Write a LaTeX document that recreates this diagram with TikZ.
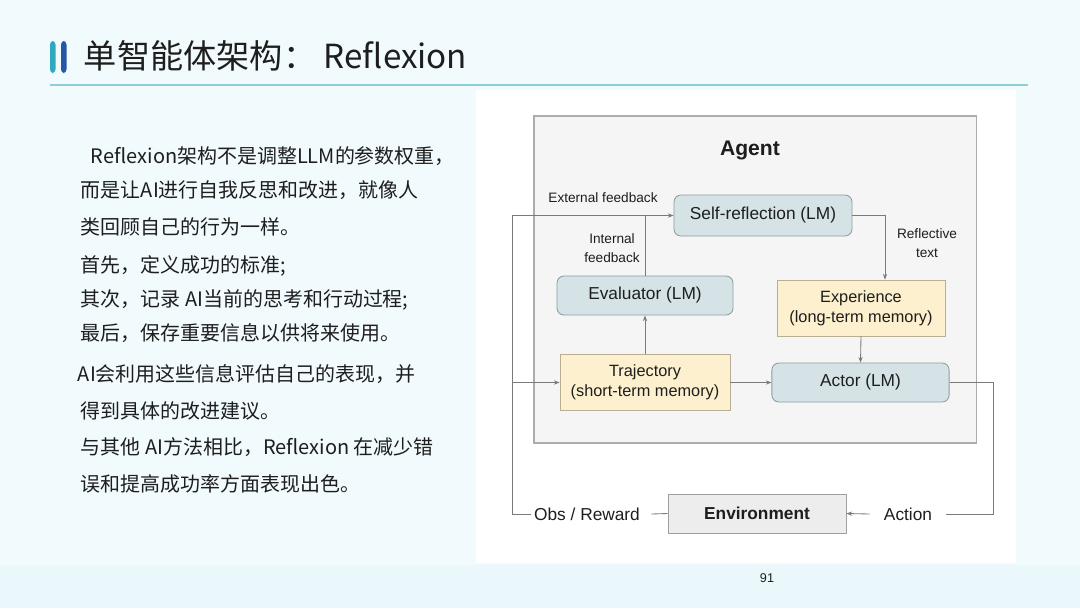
\documentclass[tikz,border=0pt]{standalone}
\usepackage{fontspec}
\setmainfont{Liberation Sans}
\newfontfamily\cjk{Noto Sans CJK SC}
\usetikzlibrary{arrows.meta,positioning}
\definecolor{bg}{HTML}{F1FAFD}
\definecolor{band}{HTML}{EAF8FB}
\definecolor{barteal}{HTML}{2FA9C0}
\definecolor{bardeep}{HTML}{2457A6}
\definecolor{rulecol}{HTML}{8FCFD4}
\definecolor{lmfill}{HTML}{D5E3E7}
\definecolor{lmdraw}{HTML}{8C9DA2}
\definecolor{memfill}{HTML}{FDF0CE}
\definecolor{memdraw}{HTML}{B9AE94}
\definecolor{envfill}{HTML}{EDEDED}
\definecolor{agentfill}{HTML}{F5F5F5}
\definecolor{wirecol}{HTML}{7A7A7A}
\definecolor{ink}{HTML}{1E1E1E}

\begin{document}
\begin{tikzpicture}[x=0.025cm,y=-0.025cm,text=ink,
  boxfont/.style={font=\fontsize{12.3}{14}\selectfont},
  lmbox/.style={boxfont,draw=lmdraw,fill=lmfill,rounded corners=5pt,line width=0.6pt,inner sep=0pt},
  membox/.style={draw=memdraw,fill=memfill,line width=0.6pt,inner sep=0pt,align=center,font=\fontsize{11.6}{14}\selectfont},
  lbl/.style={font=\fontsize{9.7}{13.5}\selectfont,align=center},
  wire/.style={draw=wirecol,line width=0.6pt},
  arr/.style={wire,-{Stealth[length=4pt,width=3pt]}}]
\useasboundingbox (0,0) rectangle (1080,608);
% slide background
\fill[bg] (0,0) rectangle (1080,608);
\fill[band] (0,565) rectangle (1080,608);
\fill[white] (476,90) rectangle (1016,563);
% title
\fill[barteal,rounded corners=2.5pt] (50,41) rectangle (55.5,73);
\fill[bardeep,rounded corners=2.5pt] (61,41) rectangle (66.5,73);
\node[anchor=west,font=\cjk\fontsize{23.6}{27}\selectfont] (title) at (79,56) {单智能体架构： Reflexion};
\draw[rulecol,line width=0.8pt] (50,85) -- (1028,85);
% left text
\foreach \n/\y/\x/\t in {1/156/86/{Reflexion架构不是调整LLM的参数权重，},
  2/190/76/{而是让AI进行自我反思和改进，就像人},
  3/227/76/{类回顾自己的行为一样。},
  4/266/76/{首先，定义成功的标准;},
  5/300/76/{其次，记录 AI当前的思考和行动过程;},
  6/333/76/{最后，保存重要信息以供将来使用。},
  7/374/73/{AI会利用这些信息评估自己的表现，并},
  8/411/76/{得到具体的改进建议。},
  9/447/76/{与其他 AI方法相比，Reflexion 在减少错},
  10/484/76/{误和提高成功率方面表现出色。}}
  \node[anchor=west,font=\cjk\fontsize{14.2}{17}\selectfont] (p\n) at (\x,\y) {\t};
% agent
\node[draw=gray!65,fill=agentfill,line width=0.8pt,minimum width=11.05cm,minimum height=8.175cm] (agentbox) at (755,279.5) {};
\node[font=\bfseries\fontsize{15}{17}\selectfont] (agent) at (750,150) {Agent};
\node[lmbox,minimum width=4.45cm,minimum height=1.025cm] (selfref) at (763,215.5) {Self-reflection (LM)};
\node[lmbox,minimum width=4.4cm,minimum height=0.975cm] (eval) at (645,295.5) {Evaluator (LM)};
\node[membox,minimum width=4.2cm,minimum height=1.4cm] (exp) at (861,308) {Experience\\(long-term memory)};
\node[membox,minimum width=4.25cm,minimum height=1.4cm] (traj) at (645,382.5) {Trajectory\\(short-term memory)};
\node[lmbox,minimum width=4.43cm,minimum height=0.975cm] (actor) at (860.5,382.5) {Actor (LM)};
\node[lbl] (extfb) at (603,198) {External feedback};
\node[lbl] (intfb) at (612,248) {Internal\\feedback};
\node[lbl] (refltxt) at (927,243) {Reflective\\text};
% environment
\node[draw=gray!75,fill=envfill,line width=0.6pt,minimum width=4.45cm,minimum height=0.975cm,font=\bfseries\fontsize{12.3}{14}\selectfont] (env) at (757,513.5) {Environment};
\node[boxfont,inner xsep=2pt] (obs) at (587,514) {Obs / Reward};
\node[boxfont,inner xsep=0.35cm] (act) at (908,514) {Action};
\coordinate (loopL) at (512,514);
\coordinate (loopR) at (993,514);
% connectors
\draw[arr] (obs.west) -- (loopL) |- (selfref.west);
\draw[arr] (loopL |- traj.west) -- (traj.west);
\draw[wire] (eval.north) -- (eval.north |- selfref.west);
\draw[arr] (traj.north) -- (eval.south);
\draw[arr] (traj.east) -- (actor.west);
\draw[arr] (selfref.east) -| ([xshift=0.6cm]exp.north);
\draw[arr] (exp.south) -- (actor.north);
\draw[wire] (actor.east) -| (loopR) -- (act.east);
\draw[arr] (act.west) -- (env.east);
\draw[wire] (env.west) -- ([xshift=6pt]obs.east);
\node[font=\fontsize{9}{10}\selectfont] (pagenum) at (767,578) {91};
\end{tikzpicture}
\end{document}
